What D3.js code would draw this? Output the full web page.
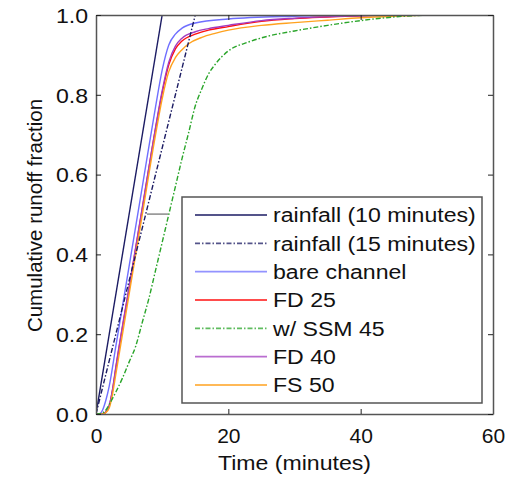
<!DOCTYPE html>
<html>
<head>
<meta charset="utf-8">
<script src="https://cdn.jsdelivr.net/npm/d3@7"></script>
<style>
  body { margin: 0; background: #fff; }
  text { font-family: "Liberation Sans", Arial, sans-serif; }
</style>
</head>
<body>
<script>
// series: time (minutes) and cumulative runoff fraction
const seriesNames = ["rainfall (10 minutes)", "rainfall (15 minutes)", "bare channel", "FD 25", "w/ SSM 45", "FD 40", "FS 50"];

const rain10T = [0, 10];
const rain10F = [0, 1];

const rain15T = [0, 15];
const rain15F = [0, 1];

const bareT = [0, 0.5, 1, 1.5, 2, 3, 5, 7, 9, 10, 11, 12, 13, 15, 20, 30, 40];
const bareF = [0, 0, 0.01, 0.035, 0.07, 0.17, 0.37, 0.57, 0.77, 0.862, 0.925, 0.952, 0.967, 0.98, 0.99, 0.997, 1];

const fd25T = [0, 1, 1.5, 2, 2.5, 3, 5, 7, 9, 10, 11, 12, 13, 15, 17, 20, 25, 30, 40, 45];
const fd25F = [0, 0, 0.005, 0.02, 0.06, 0.115, 0.315, 0.515, 0.715, 0.805, 0.875, 0.915, 0.935, 0.952, 0.962, 0.971, 0.984, 0.991, 0.998, 1];

const fd40T = [0, 1, 1.5, 2, 2.5, 3, 5, 7, 9, 10, 11, 12, 13, 15, 17, 20, 25, 30, 40, 45];
const fd40F = [0, 0, 0.006, 0.022, 0.062, 0.118, 0.318, 0.518, 0.718, 0.81, 0.882, 0.922, 0.942, 0.958, 0.966, 0.974, 0.986, 0.992, 0.998, 1];

const ssmT = [0, 1, 1.5, 2, 3, 4, 5, 6, 7, 8, 9, 10, 11, 12, 13, 14, 15, 16, 17, 18, 20, 23, 26, 30, 35, 40, 45, 50];
const ssmF = [0, 0.003, 0.01, 0.024, 0.055, 0.09, 0.13, 0.17, 0.23, 0.29, 0.36, 0.43, 0.5, 0.57, 0.64, 0.705, 0.772, 0.815, 0.852, 0.876, 0.91, 0.932, 0.947, 0.96, 0.974, 0.986, 0.995, 1];

const fs50T = [0, 1, 1.5, 2, 2.5, 3, 5, 7, 9, 10, 11, 12, 13, 14, 16, 18, 20, 25, 30, 35, 40, 45, 50];
const fs50F = [0, 0, 0.004, 0.015, 0.05, 0.1, 0.3, 0.5, 0.7, 0.79, 0.858, 0.893, 0.913, 0.928, 0.944, 0.954, 0.962, 0.974, 0.981, 0.987, 0.993, 0.997, 1];

const xTicks = [0, 20, 40, 60];
const yTicks = [0, 0.2, 0.4, 0.6, 0.8, 1.0];

// little grey marker line inside the plot, (t, f)
const markT = [7.7, 10.9];
const markF = [0.501, 0.501];

const width = 508, height = 477;
const margin = { left: 96, right: 15, top: 15, bottom: 63 };
const fontSize = 21;
const stretch = 1.1; // the original text is a bit wider than Liberation Sans

const svg = d3.select("body").append("svg")
  .attr("width", width)
  .attr("height", height);

const x = d3.scaleLinear().domain([0, 60]).range([margin.left, width - margin.right]);
const y = d3.scaleLinear().domain([0, 1]).range([height - margin.bottom, margin.top]);

const allSeries = [
  { t: rain10T, f: rain10F, color: "#1b1b63", dash: null, w: 1.4 },
  { t: rain15T, f: rain15F, color: "#1b1b63", dash: "5,2,1.5,2", w: 1.4 },
  { t: bareT, f: bareF, color: "#6f6fff", dash: null, w: 1.4 },
  { t: fd25T, f: fd25F, color: "#ff1010", dash: null, w: 1.4 },
  { t: ssmT, f: ssmF, color: "#2aa52a", dash: "5,2,1.5,2", w: 1.4 },
  { t: fd40T, f: fd40F, color: "#a33cc0", dash: null, w: 1.4 },
  { t: fs50T, f: fs50F, color: "#ffa21f", dash: null, w: 1.4 }
];

const line = d3.line()
  .x(d => x(d[0]))
  .y(d => y(d[1]))
  .curve(d3.curveMonotoneX);

svg.append("defs").append("clipPath").attr("id", "clip")
  .append("rect")
  .attr("x", x(0)).attr("y", y(1))
  .attr("width", x(60) - x(0)).attr("height", y(0) - y(1));

const plot = svg.append("g").attr("clip-path", "url(#clip)");

// draw in order so the later ones sit on top
const drawOrder = [2, 3, 5, 6, 4, 1, 0];
drawOrder.forEach(i => {
  const s = allSeries[i];
  plot.append("path")
    .datum(d3.zip(s.t, s.f))
    .attr("fill", "none")
    .attr("stroke", s.color)
    .attr("stroke-width", s.w)
    .attr("stroke-dasharray", s.dash)
    .attr("d", line);
});

plot.append("path")
  .datum(d3.zip(markT, markF))
  .attr("fill", "none")
  .attr("stroke", "#8a8a8a")
  .attr("stroke-width", 1.5)
  .attr("d", d3.line().x(d => x(d[0])).y(d => y(d[1])));

// axes: ticks inward on all four sides
const tickLen = 5;
const axisColor = "#555";

const xBottom = svg.append("g")
  .attr("transform", `translate(0,${y(0)})`)
  .call(d3.axisBottom(x).tickValues(xTicks).tickSizeInner(-tickLen).tickSizeOuter(0).tickPadding(29));
const xTop = svg.append("g")
  .attr("transform", `translate(0,${y(1)})`)
  .call(d3.axisTop(x).tickValues(xTicks).tickSizeInner(-tickLen).tickSizeOuter(0).tickFormat(""));
const yLeft = svg.append("g")
  .attr("transform", `translate(${x(0)},0)`)
  .call(d3.axisLeft(y).tickValues(yTicks).tickSizeInner(-tickLen).tickSizeOuter(0).tickPadding(8).tickFormat(d3.format(".1f")));
const yRight = svg.append("g")
  .attr("transform", `translate(${x(60)},0)`)
  .call(d3.axisRight(y).tickValues(yTicks).tickSizeInner(-tickLen).tickSizeOuter(0).tickFormat(""));

[xBottom, xTop, yLeft, yRight].forEach(g => {
  g.select(".domain").attr("stroke", axisColor).attr("stroke-width", 1.5);
  g.selectAll(".tick line").attr("stroke", "#222");
  g.selectAll(".tick text").attr("font-size", fontSize).attr("fill", "#111")
    .style("font-family", "'Liberation Sans', Arial, sans-serif");
});
xBottom.selectAll(".tick text").attr("dy", "0");
yLeft.selectAll(".tick text").attr("dy", "0.35em")
  .attr("transform", `scale(${stretch},1)`)
  .attr("x", -8 / stretch);

svg.append("text")
  .attr("transform", `translate(${(x(0) + x(60)) / 2},470) scale(${stretch},1)`)
  .attr("text-anchor", "middle")
  .attr("font-size", fontSize)
  .attr("fill", "#111")
  .text("Time (minutes)");

svg.append("text")
  .attr("transform", `translate(42,${(y(0) + y(1)) / 2 + 1}) rotate(-90)`)
  .attr("text-anchor", "middle")
  .attr("font-size", 20.5)
  .attr("fill", "#111")
  .text("Cumulative runoff fraction");

// legend
const legX = 182, legY = 197, legW = 300, legH = 206;
const legend = svg.append("g");
legend.append("rect")
  .attr("x", legX).attr("y", legY)
  .attr("width", legW).attr("height", legH)
  .attr("fill", "#fff")
  .attr("stroke", "#555")
  .attr("stroke-width", 1.5);

const rowY = d3.scalePoint().domain(d3.range(seriesNames.length)).range([215, 385]);
seriesNames.forEach((name, i) => {
  const s = allSeries[i];
  legend.append("line")
    .attr("x1", 195).attr("x2", 267)
    .attr("y1", rowY(i)).attr("y2", rowY(i))
    .attr("stroke", s.color)
    .attr("stroke-opacity", 0.75)
    .attr("stroke-width", s.w + 0.4)
    .attr("stroke-dasharray", s.dash);
  legend.append("text")
    .attr("transform", `translate(273,${rowY(i)}) scale(${stretch},1)`)
    .attr("dy", "0.35em")
    .attr("font-size", fontSize)
    .attr("fill", "#111")
    .text(name);
});
</script>
</body>
</html>
